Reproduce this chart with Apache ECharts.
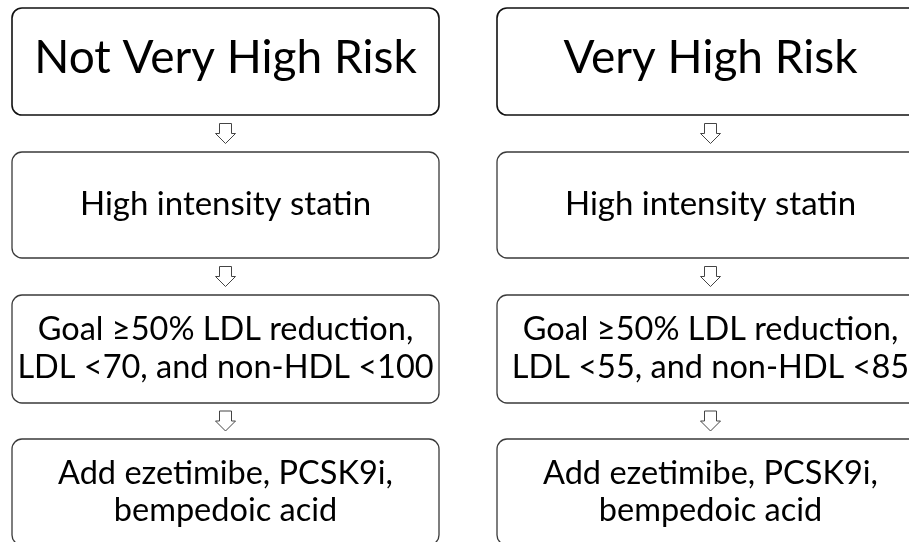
<!DOCTYPE html>
<html>
<head>
<meta charset="utf-8">
<script src="https://cdn.jsdelivr.net/npm/echarts@6/dist/echarts.min.js"></script>
<style>
html,body{margin:0;padding:0;background:#fff;}
#main{width:909px;height:542px;}
</style>
</head>
<body>
<div id="main"></div>
<script>
// Diagram content
var leftColumn = [
  'Not Very High Risk',
  'High intensity statin',
  'Goal ≥50% LDL reduction,\nLDL <70, and non-HDL <100',
  'Add ezetimibe, PCSK9i,\nbempedoic acid'
];
var rightColumn = [
  'Very High Risk',
  'High intensity statin',
  'Goal ≥50% LDL reduction,\nLDL <55, and non-HDL <85',
  'Add ezetimibe, PCSK9i,\nbempedoic acid'
];

var chart = echarts.init(document.getElementById('main'), null, {renderer: 'canvas'});

var colX = [12, 497];
var boxW = 427;
var rowTop = [8, 152, 295, 439];
var rowH = [107, 106, 108, 106];
var fontSizes = [46, 33, 32.5, 32.5];
var lineHeights = [50, 38, 38, 37];
var textShift = [-3, -1, 0, 0];
var FONT = 'Lato, "Open Sans", sans-serif';

var elements = [];
[leftColumn, rightColumn].forEach(function (col, ci) {
  var x = colX[ci];
  var cx = x + boxW / 2;
  col.forEach(function (label, ri) {
    elements.push({
      type: 'rect',
      shape: {x: x, y: rowTop[ri], width: boxW, height: rowH[ri], r: 10},
      style: {fill: '#fff', stroke: ri === 0 ? '#111' : '#3a3a3a', lineWidth: ri === 0 ? 1.6 : 1.3}
    });
    elements.push({
      type: 'text',
      x: cx,
      y: rowTop[ri] + rowH[ri] / 2 + textShift[ri],
      style: {
        text: label,
        fill: '#000',
        font: 'normal ' + fontSizes[ri] + 'px ' + FONT,
        lineHeight: lineHeights[ri],
        align: 'center',
        verticalAlign: 'middle'
      }
    });
    if (ri < col.length - 1) {
      var gapTop = rowTop[ri] + rowH[ri];
      var gapBot = rowTop[ri + 1];
      var t = (gapTop + gapBot) / 2 - 10;
      elements.push({
        type: 'polygon',
        shape: {points: [
          [cx - 6, t], [cx + 6, t], [cx + 6, t + 10], [cx + 10, t + 10],
          [cx, t + 20], [cx - 10, t + 10], [cx - 6, t + 10]
        ]},
        style: {fill: '#fff', stroke: '#444', lineWidth: 1}
      });
    }
  });
});

chart.setOption({
  backgroundColor: '#fff',
  animation: false,
  graphic: {elements: elements}
});
</script>
</body>
</html>
